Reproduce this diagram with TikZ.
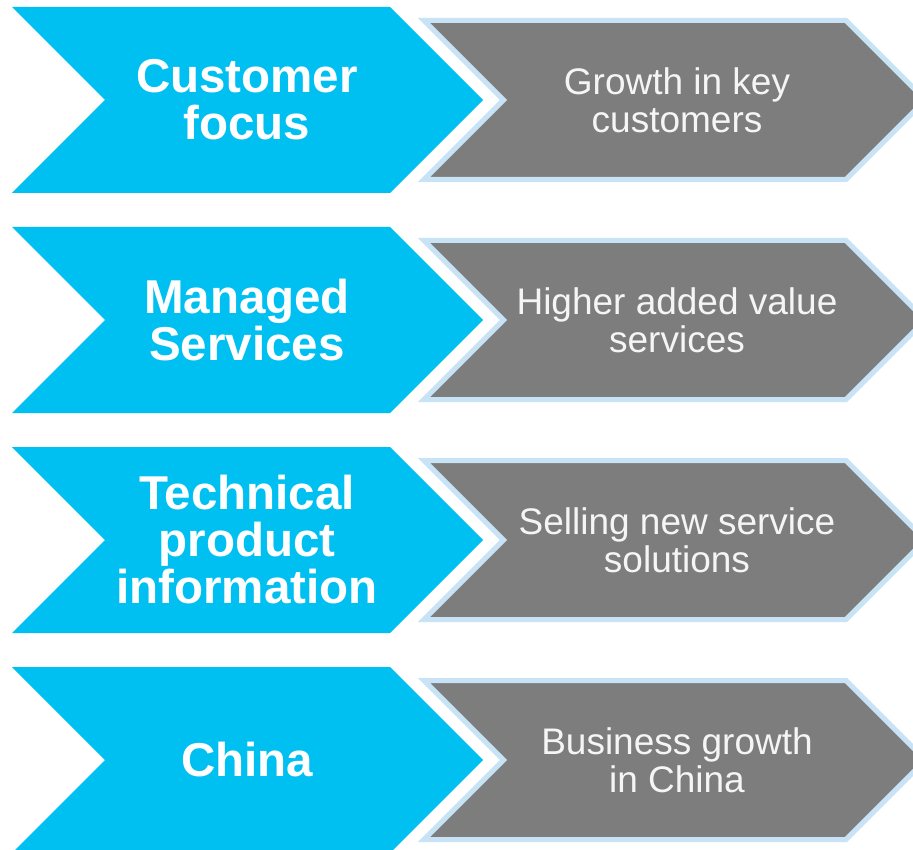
\documentclass[tikz,border=0pt]{standalone}
\usepackage{fontspec}
\setmainfont{Liberation Sans}
\definecolor{chevblue}{HTML}{00C0F2}
\definecolor{chevgray}{HTML}{7D7D7D}
\definecolor{chevedge}{HTML}{C8E3F6}
\tikzset{
  bluechev/.style={fill=chevblue, draw=none},
  graychev/.style={fill=chevgray, draw=chevedge, line width=5pt, line join=miter},
  bluetext/.style={text=white, align=center, font=\fontsize{47.5}{47}\selectfont\bfseries},
  graytext/.style={text=white!96!black, align=center, font=\fontsize{37}{38}\selectfont},
}
\begin{document}
\begin{tikzpicture}[x=1pt,y=-1pt]
\useasboundingbox (0,0) rectangle (913,850);
\clip (0,0) rectangle (913,850);
\foreach \c/\bt/\gt/\n in {100/{Customer\\focus}/{Growth in key\\customers}/a,
                           320/{Managed\\Services}/{Higher added value\\services}/b,
                           540/{Technical\\product\\information}/{Selling new service\\solutions}/c,
                           760/{China}/{Business growth\\in China}/d}{
  \fill[bluechev] (12,\c-93) -- (390,\c-93) -- (483,\c) -- (390,\c+93) -- (12,\c+93) -- (105,\c) -- cycle;
  \draw[graychev] (424,\c-79.5) -- (846,\c-79.5) -- (925.5,\c) -- (846,\c+79.5) -- (424,\c+79.5) -- (503.5,\c) -- cycle;
  \node[bluetext] (blue\n) at (247,\c) {\bt};
  \node[graytext] (gray\n) at (677,\c) {\gt};
}
\end{tikzpicture}
\end{document}
